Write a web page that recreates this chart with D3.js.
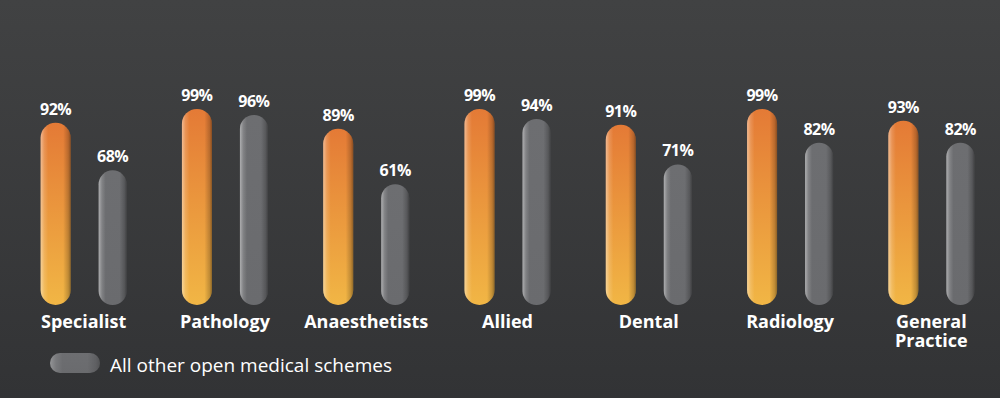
<!DOCTYPE html>
<html>
<head>
<meta charset="utf-8">
<script src="https://cdn.jsdelivr.net/npm/d3@7/dist/d3.min.js"></script>
<style>
  html, body { margin: 0; padding: 0; background: #38393a; }
  svg { display: block; font-family: "Open Sans", sans-serif; }
</style>
</head>
<body>
<div id="chart"></div>
<script>
var width = 1000,
    height = 398;

var categories = ['Specialist', 'Pathology', 'Anaesthetists', 'Allied', 'Dental', 'Radiology', 'General Practice'];
var seriesNames = ['Scheme', 'All other open medical schemes'];
var schemeValues = [92, 99, 89, 99, 91, 99, 93];
var otherValues = [68, 96, 61, 94, 71, 82, 82];

var svg = d3.select('#chart').append('svg')
    .attr('width', width)
    .attr('height', height);

var defs = svg.append('defs');

// background
var bg = defs.append('linearGradient').attr('id', 'bg')
    .attr('x1', 0).attr('y1', 0).attr('x2', 0).attr('y2', 1);
bg.append('stop').attr('offset', '0%').attr('stop-color', '#414243');
bg.append('stop').attr('offset', '100%').attr('stop-color', '#323335');

var orange = defs.append('linearGradient').attr('id', 'orange')
    .attr('x1', 0).attr('y1', 0).attr('x2', 0).attr('y2', 1);
orange.append('stop').attr('offset', '0%').attr('stop-color', '#e47a36');
orange.append('stop').attr('offset', '100%').attr('stop-color', '#f1b645');

var grey = defs.append('linearGradient').attr('id', 'grey')
    .attr('x1', 0).attr('y1', 0).attr('x2', 0).attr('y2', 1);
grey.append('stop').attr('offset', '0%').attr('stop-color', '#6d6e71');
grey.append('stop').attr('offset', '100%').attr('stop-color', '#6a6b6e');

// horizontal shading for the tube look
var shade = defs.append('linearGradient').attr('id', 'shade')
    .attr('x1', 0).attr('y1', 0).attr('x2', 1).attr('y2', 0);
shade.append('stop').attr('offset', '0%').attr('stop-color', '#fff').attr('stop-opacity', 0.45);
shade.append('stop').attr('offset', '12%').attr('stop-color', '#fff').attr('stop-opacity', 0.15);
shade.append('stop').attr('offset', '25%').attr('stop-color', '#fff').attr('stop-opacity', 0);
shade.append('stop').attr('offset', '75%').attr('stop-color', '#000').attr('stop-opacity', 0);
shade.append('stop').attr('offset', '92%').attr('stop-color', '#000').attr('stop-opacity', 0.2);
shade.append('stop').attr('offset', '100%').attr('stop-color', '#000').attr('stop-opacity', 0.4);

svg.append('rect')
    .attr('width', width)
    .attr('height', height)
    .attr('fill', 'url(#bg)');

var x0 = d3.scaleBand()
    .domain(categories)
    .range([13, 1002]);

// bar centres inside a group, relative to the group's centre
var x1 = d3.scalePoint()
    .domain([0, 1])
    .range([-28, 29]);

var y = d3.scaleLinear()
    .domain([0, 100])
    .range([305, 107]);

var barWidths = [30, 28];
var fills = ['url(#orange)', 'url(#grey)'];

var rows = [];
categories.forEach(function(c, i) {
    [schemeValues[i], otherValues[i]].forEach(function(v, s) {
        rows.push({ cat: c, s: s, v: v });
    });
});

function barCenter(d) {
    return x0(d.cat) + x0.bandwidth() / 2 + x1(d.s);
}

function barX(d) {
    return barCenter(d) - barWidths[d.s] / 2;
}

var bars = svg.append('g').selectAll('g')
    .data(rows)
    .enter()
    .append('g');

bars.append('rect')
    .attr('x', barX)
    .attr('y', function(d) { return y(d.v); })
    .attr('width', function(d) { return barWidths[d.s]; })
    .attr('height', function(d) { return y(0) - y(d.v); })
    .attr('rx', function(d) { return barWidths[d.s] / 2; })
    .attr('fill', function(d) { return fills[d.s]; });

bars.append('rect')
    .attr('x', barX)
    .attr('y', function(d) { return y(d.v); })
    .attr('width', function(d) { return barWidths[d.s]; })
    .attr('height', function(d) { return y(0) - y(d.v); })
    .attr('rx', function(d) { return barWidths[d.s] / 2; })
    .attr('fill', 'url(#shade)');

bars.append('text')
    .attr('x', barCenter)
    .attr('y', function(d) { return y(d.v) - 8; })
    .attr('text-anchor', 'middle')
    .attr('fill', '#fff')
    .attr('font-size', 16)
    .attr('font-weight', 700)
    .attr('letter-spacing', -0.5)
    .text(function(d) { return d.v + '%'; });

// category labels
var labels = svg.append('g').selectAll('text')
    .data(categories)
    .enter()
    .append('text')
    .attr('x', function(d) { return x0(d) + x0.bandwidth() / 2; })
    .attr('y', 328)
    .attr('text-anchor', 'middle')
    .attr('fill', '#fff')
    .attr('font-size', 18)
    .attr('font-weight', 700);

labels.each(function(d) {
    var words = d.split(' ');
    var t = d3.select(this);
    if (words.length > 1) {
        words.forEach(function(w, i) {
            t.append('tspan')
                .attr('x', x0(d) + x0.bandwidth() / 2)
                .attr('dy', i === 0 ? 0 : 19)
                .text(w);
        });
    } else {
        t.text(d);
    }
});

// legend
var legend = svg.append('g').attr('transform', 'translate(50,353)');
legend.append('rect')
    .attr('width', 50)
    .attr('height', 20)
    .attr('rx', 10)
    .attr('fill', 'url(#grey)');
legend.append('rect')
    .attr('width', 50)
    .attr('height', 20)
    .attr('rx', 10)
    .attr('fill', 'url(#shade)')
    .attr('opacity', 0.6);
legend.append('text')
    .attr('x', 60)
    .attr('y', 19)
    .attr('fill', '#fff')
    .attr('font-size', 19)
    .text(seriesNames[1]);
</script>
</body>
</html>
